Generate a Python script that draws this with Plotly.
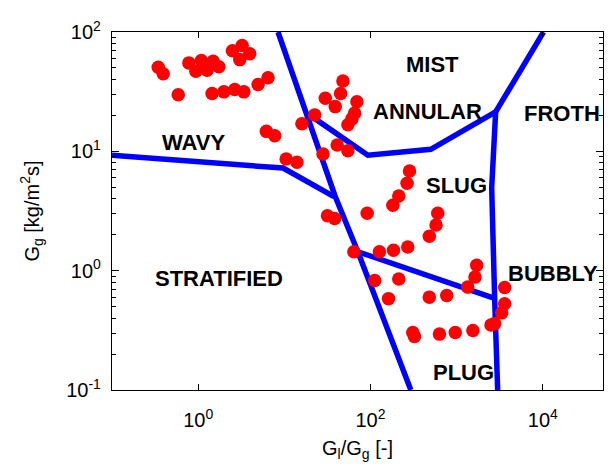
import math
import plotly.graph_objects as go

# Flow-regime boundaries (x = Gl/Gg, y = Gg)
wavy_x = [0.1, 9.7, 37.7]
wavy_y = [9.27, 7.24, 4.17]

steep_x = [8.45, 38.7, 71.4, 294]
steep_y = [100, 4.25, 1.44, 0.1]

annular_x = [18.8, 93.3, 501, 2838]
annular_y = [20.6, 9.27, 10.4, 21.4]

froth_x = [2838, 10200]
froth_y = [21.4, 100]

vert_x = [2838, 2553, 2763, 2994]
vert_y = [21.4, 4.94, 0.587, 0.1]

bubbly_x = [71.4, 2763]
bubbly_y = [1.44, 0.587]

# Experimental data points
pts_x = [0.344, 0.393, 0.587, 0.780, 0.94, 1.09, 1.27, 1.49, 1.74, 2.50,
         3.24, 3.97, 3.04, 1.45, 1.99, 2.66, 3.39, 4.96, 6.47, 6.19,
         7.74, 10.5, 14.0, 47.9, 45.0, 29.9, 39.0, 69.6, 65.4, 60.9,
         54.7, 22.5, 16.0, 41.1, 54.7, 28.1, 284, 266, 213, 182,
         91.6, 31.7, 38.4, 604, 577, 482, 64.2, 127, 185, 271,
         1710, 1633, 1346, 3608, 112, 213, 162, 482, 768, 3608,
         3334, 2505, 2763, 310, 324, 632, 964, 1545]
pts_y = [50.7, 44.7, 29.8, 55.1, 47.0, 57.6, 47.9, 56.8, 51.1, 69.7,
         77.1, 65.8, 58.7, 30.5, 31.5, 33.0, 31.5, 36.3, 41.4, 14.7,
         13.5, 8.64, 8.11, 38.8, 30.5, 27.8, 23.7, 26.0, 20.9, 18.7,
         16.7, 20.2, 17.0, 11.3, 10.1, 9.5, 6.84, 5.41, 4.22, 3.53,
         3.03, 2.88, 2.74, 3.03, 2.41, 1.94, 1.44, 1.44, 1.48, 1.58,
         1.11, 0.883, 0.728, 0.724, 0.826, 0.853, 0.583, 0.600, 0.619, 0.528,
         0.443, 0.351, 0.360, 0.303, 0.281, 0.294, 0.303, 0.315]

region_names = ["MIST", "ANNULAR", "FROTH", "WAVY", "SLUG", "STRATIFIED", "BUBBLY", "PLUG"]
region_x = [529, 462, 16700, 0.875, 989, 1.75, 13300, 1208]
region_y = [53.3, 21.4, 20.6, 11.9, 5.14, 0.859, 0.944, 0.141]

x_tickvals = [1, 100, 10000]
x_ticktext = ["10<sup>0</sup>", "10<sup>2</sup>", "10<sup>4</sup>"]
y_tickvals = [0.1, 1, 10, 100]
y_ticktext = ["10<sup>-1</sup>", "10<sup>0</sup>", "10<sup>1</sup>", "10<sup>2</sup>"]
y_minor = [m * 10 ** k for k in (-1, 0, 1) for m in range(2, 10)]

FONT = "Liberation Sans, Arial, sans-serif"
fig = go.Figure()

line_style = dict(color="#0000ff", width=5.5)
for xs, ys in [(wavy_x, wavy_y), (steep_x, steep_y), (annular_x, annular_y),
               (froth_x, froth_y), (vert_x, vert_y), (bubbly_x, bubbly_y)]:
    fig.add_trace(go.Scatter(x=xs, y=ys, mode="lines", line=line_style,
                             showlegend=False, hoverinfo="skip"))

fig.add_trace(go.Scatter(x=pts_x, y=pts_y, mode="markers",
                         marker=dict(color="#ff0000", size=13.5, line=dict(width=0)),
                         showlegend=False))

# annotations on log axes take log10 positions
for name, rx, ry in zip(region_names, region_x, region_y):
    fig.add_annotation(x=math.log10(rx), y=math.log10(ry), xref="x", yref="y",
                       text="<b>%s</b>" % name, showarrow=False,
                       font=dict(family=FONT, size=22, color="black"))

# page body has an 8px margin: figure is sized to fit the 614x466 window
fig.update_layout(
    width=606, height=458,
    margin=dict(l=104, r=10, t=18, b=76),
    paper_bgcolor="white", plot_bgcolor="white",
    font=dict(family=FONT, size=20, color="black"),
)
fig.update_xaxes(type="log", range=[-1, 4.699], tickvals=x_tickvals, ticktext=x_ticktext,
                 ticks="inside", ticklen=6, tickcolor="black", showgrid=False, zeroline=False,
                 showline=True, linecolor="black", linewidth=1.3, mirror="ticks",
                 tickfont=dict(size=20), ticklabelstandoff=12,
                 title=dict(text="G<sub>l</sub>/G<sub>g</sub> [-]", font=dict(size=20), standoff=10))
fig.update_yaxes(type="log", range=[-1, 2], tickvals=y_tickvals, ticktext=y_ticktext,
                 ticks="inside", ticklen=7, tickcolor="black", showgrid=False, zeroline=False,
                 showline=True, linecolor="black", linewidth=1.3, mirror="ticks",
                 minor=dict(tickvals=y_minor, ticks="inside", ticklen=4, tickcolor="black", showgrid=False),
                 tickfont=dict(size=20), ticklabelstandoff=6,
                 title=dict(text="G<sub>g</sub> [kg/m<sup>2</sup>s]", font=dict(size=20), standoff=21))

fig.write_html("out.html")
